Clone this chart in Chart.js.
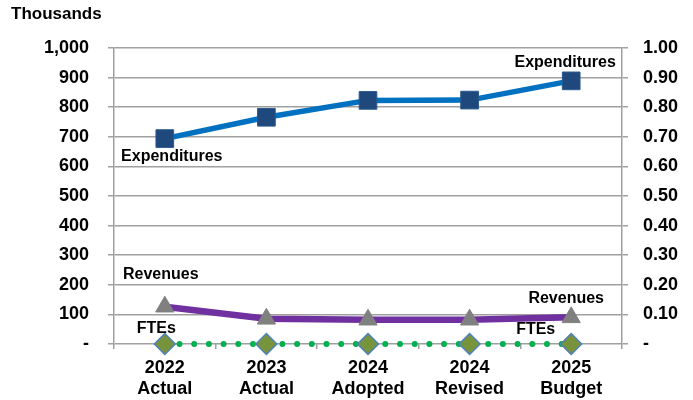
<!DOCTYPE html>
<html>
<head>
<meta charset="utf-8">
<script src="https://cdn.jsdelivr.net/npm/chart.js@4"></script>
<style>
html,body{margin:0;padding:0;background:#fff;}
#wrap{width:693px;height:400px;position:relative;}
</style>
</head>
<body>
<div id="wrap"><canvas id="c" width="693" height="400"></canvas></div>
<script>
const categories = [['2022','Actual'],['2023','Actual'],['2024','Adopted'],['2024','Revised'],['2025','Budget']];
const expenditures = [694, 766, 823, 824, 889];
const revenues = [126, 85, 82, 82, 90];
const ftes = [0, 0, 0, 0, 0];
const leftTicks = [0, 100, 200, 300, 400, 500, 600, 700, 800, 900, 1000];
const rightTicks = [0, 0.1, 0.2, 0.3, 0.4, 0.5, 0.6, 0.7, 0.8, 0.9, 1.0];

const FONT = "'Liberation Sans', Arial, sans-serif";
const GRID = '#A0A0A0';

const labels = [
  {ds:0, i:0, text:'Expenditures', dx:7, dy:18},
  {ds:0, i:4, text:'Expenditures', dx:-6, dy:-18},
  {ds:1, i:0, text:'Revenues', dx:-4, dy:-32},
  {ds:1, i:4, text:'Revenues', dx:-5, dy:-19},
  {ds:2, i:0, text:'FTEs', dx:-8.5, dy:-15.5},
  {ds:2, i:4, text:'FTEs', dx:-35.5, dy:-14}
];

const labelPlugin = {
  id:'labelPlugin',
  afterDraw(chart){
    const ctx = chart.ctx;
    ctx.save();
    ctx.fillStyle = '#000';
    ctx.font = 'bold 16px ' + FONT;
    ctx.textAlign = 'center';
    ctx.textBaseline = 'middle';
    labels.forEach(l => {
      const p = chart.getDatasetMeta(l.ds).data[l.i];
      ctx.fillText(l.text, p.x + l.dx, p.y + l.dy);
    });
    ctx.font = 'bold 17px ' + FONT;
    ctx.textAlign = 'left';
    ctx.fillText('Thousands', 11, 14);
    ctx.restore();
  }
};

new Chart(document.getElementById('c'), {
  type:'line',
  data:{
    labels: categories,
    datasets:[
      {label:'Expenditures', data:expenditures, yAxisID:'y', borderColor:'#0070C0', borderWidth:5.5, clip:false,
       pointStyle:'rect', pointRadius:12.5, pointBackgroundColor:'#1F497D', pointBorderColor:'#2B5A8E', pointBorderWidth:1, tension:0},
      {label:'Revenues', data:revenues, yAxisID:'y', borderColor:'#7030A0', borderWidth:6.5, clip:false,
       pointStyle:'triangle', pointRadius:10.5, pointBackgroundColor:'#808080', pointBorderColor:'#808080', pointBorderWidth:1, tension:0},
      {label:'FTEs', data:ftes, yAxisID:'y2', borderColor:'#00B050', borderWidth:6, borderDash:[0,14.7], borderCapStyle:'round', clip:false,
       pointStyle:'rectRot', pointRadius:10.5, pointBackgroundColor:'#77933C', pointBorderColor:'#4F81BD', pointBorderWidth:1.5, tension:0}
    ]
  },
  options:{
    responsive:false,
    animation:false,
    layout:{padding:{top:48, left:0, right:0, bottom:0}},
    plugins:{legend:{display:false}, tooltip:{enabled:false}, title:{display:false}},
    scales:{
      x:{
        offset:true,
        grid:{offset:true, drawOnChartArea:false, drawTicks:true, tickLength:5, color:GRID, lineWidth:1.5},
        border:{display:false},
        ticks:{color:'#000', font:{family:FONT, size:18, weight:'bold'}, padding:8, maxRotation:0, autoSkip:false},
        afterFit(s){ s.height = 56; }
      },
      y:{
        position:'left', min:0, max:1000,
        afterBuildTicks(s){ s.ticks = leftTicks.map(v => ({value:v})); },
        grid:{color:GRID, lineWidth:1.5, tickLength:6},
        border:{color:GRID, width:1.5},
        ticks:{color:'#000', font:{family:FONT, size:18, weight:'bold'}, padding:19,
          callback:v => v === 0 ? '-' : v.toLocaleString('en-US')},
        afterFit(s){ s.width = 114; }
      },
      y2:{
        position:'right', min:0, max:1,
        afterBuildTicks(s){ s.ticks = rightTicks.map(v => ({value:v})); },
        grid:{drawOnChartArea:false, color:GRID, lineWidth:1.5, tickLength:6},
        border:{color:GRID, width:1.5},
        ticks:{color:'#000', font:{family:FONT, size:18, weight:'bold'}, padding:15,
          callback:v => v === 0 ? '-' : v.toFixed(2)},
        afterFit(s){ s.width = 71; }
      }
    }
  },
  plugins:[labelPlugin]
});
</script>
</body>
</html>
